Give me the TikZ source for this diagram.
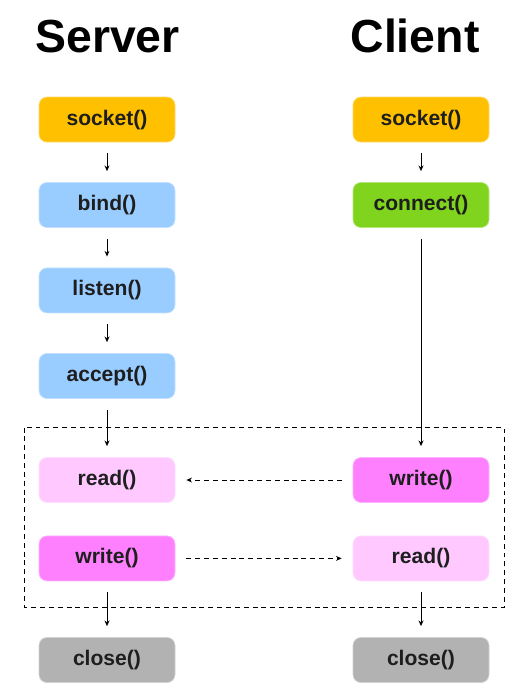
\documentclass[tikz,border=0pt]{standalone}
\usepackage{fontspec}
\setmainfont{Liberation Sans}
\usepackage{xcolor}
\usetikzlibrary{arrows.meta,positioning}
\definecolor{sockc}{HTML}{FFC000}
\definecolor{srvc}{HTML}{99CCFF}
\definecolor{connc}{HTML}{80D41E}
\definecolor{readc}{HTML}{FFC8FF}
\definecolor{writec}{HTML}{FF80FF}
\definecolor{closec}{HTML}{B2B2B2}
\definecolor{txt}{HTML}{1E1E1E}

\begin{document}
\begin{tikzpicture}[
  paso/.style={draw=#1!60!white, line width=0.5pt, rounded corners=0.2cm, fill=#1,
               minimum width=3.4cm, minimum height=1.125cm, align=center,
               font=\fontsize{15}{18}\selectfont\bfseries\color{txt}},
  titulo/.style={font=\fontsize{33}{40}\selectfont\bfseries, anchor=base},
  flecha/.style={-{Stealth[length=4pt,width=3.5pt]}, line width=0.7pt, shorten <=0.275cm, shorten >=0.275cm},
  punteada/.style={flecha, dash pattern=on 3.5pt off 2.8pt}]
\useasboundingbox (0,0) rectangle (13.25,-17.5);
\node[titulo] (tsrv) at (2.69,-1.325) {Server};
\node[titulo] (tcli) at (10.375,-1.325) {Client};
% lado servidor
\node[paso=sockc]  (ssock) at (2.675,-2.99)  {socket()};
\node[paso=srvc]   (sbind) at (2.675,-5.125) {bind()};
\node[paso=srvc]   (slist) at (2.675,-7.26)  {listen()};
\node[paso=srvc]   (sacc)  at (2.675,-9.4)   {accept()};
\node[paso=readc]  (sread) at (2.675,-12.0)  {read()};
\node[paso=writec] (swrit) at (2.675,-13.96) {write()};
\node[paso=closec] (sclos) at (2.675,-16.5)  {close()};
% lado cliente
\node[paso=sockc]  (csock) at (10.525,-2.99)  {socket()};
\node[paso=connc]  (cconn) at (10.525,-5.125) {connect()};
\node[paso=writec] (cwrit) at (10.525,-12.0)  {write()};
\node[paso=readc]  (cread) at (10.525,-13.96) {read()};
\node[paso=closec] (cclos) at (10.525,-16.5)  {close()};
\foreach \a/\b in {ssock/sbind, sbind/slist, slist/sacc, sacc/sread, swrit/sclos,
                   csock/cconn, cconn/cwrit, cread/cclos}
  \draw[flecha] (\a) -- (\b);
\draw[punteada] (cwrit) -- (sread);
\draw[punteada] (swrit) -- (cread);
% zona de intercambio
\draw[dash pattern=on 3.5pt off 2.8pt, line width=0.6pt] (0.62,-10.69) rectangle (12.6,-15.18);
\end{tikzpicture}
\end{document}
